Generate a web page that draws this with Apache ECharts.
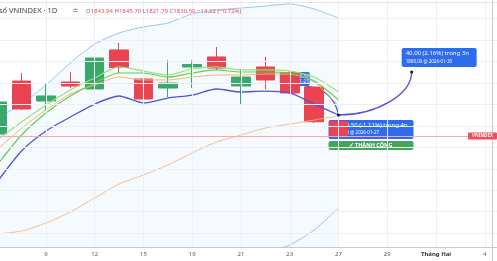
<!DOCTYPE html>
<html><head><meta charset="utf-8">
<script src="https://cdn.jsdelivr.net/npm/echarts@6/dist/echarts.min.js"></script>
<style>html,body{margin:0;padding:0;background:#fff;overflow:hidden}#c{width:497px;height:261px}</style>
</head><body><div id="c"></div>
<script>
// ---- data ----
const categories = ['7','8','9','10','12','13','15','16','19','20','21','22','23','26','27','28','29','30','Tháng Hai','3','4'];
// [open, close, low, high]
const ohlc = [
  [1832.3, 1862.1, 1830.5, 1864.0],
  [1881.6, 1855.6, 1854.7, 1889.1],
  [1863.0, 1867.7, 1853.7, 1879.8],
  [1880.7, 1877.0, 1875.1, 1890.0],
  [1874.2, 1903.0, 1873.3, 1910.5],
  [1910.5, 1894.2, 1889.1, 1917.0],
  [1883.5, 1864.9, 1846.3, 1885.3],
  [1875.1, 1879.8, 1866.7, 1901.2],
  [1894.7, 1897.0, 1875.1, 1901.2],
  [1904.0, 1893.7, 1891.9, 1913.3],
  [1877.0, 1885.3, 1860.2, 1892.8],
  [1894.7, 1882.6, 1874.2, 1904.0],
  [1889.0, 1870.5, 1869.5, 1890.9],
  [1876.0, 1843.72, 1842.6, 1876.0],
  [1843.94, 1830.50, 1821.79, 1845.70]
];
const upperBand = [1847.2,1860.2,1877.9,1898.4,1916.0,1926.3,1931.9,1935.6,1944.0,1947.7,1949.5,1951.4,1953.3,1948.6,1940.2];
const lowerBand = [1566.3,1584.9,1603.5,1622.1,1640.7,1659.3,1673.3,1687.2,1696.5,1705.8,1713.3,1721.6,1729.1,1743.0,1763.5];
const maBlue    = [1787.7,1816.5,1835.1,1848.1,1860.2,1867.7,1861.2,1865.8,1868.6,1874.2,1871.4,1872.3,1870.5,1860.2,1850.0];
const maGreenA  = [1826.7,1843.5,1859.3,1873.3,1884.4,1894.7,1890.9,1887.2,1892.8,1894.7,1891.9,1891.9,1890.9,1885.3,1871.4];
const maGreenB  = [1803.5,1831.4,1851.9,1867.7,1879.8,1889.1,1889.1,1885.3,1889.1,1891.9,1890.0,1890.0,1889.1,1881.6,1864.0];
const maOrange  = [1817.4,1837.9,1854.7,1869.5,1877.9,1885.3,1882.6,1882.6,1885.3,1887.2,1887.2,1888.1,1888.1,1880.7,1858.4];
const maLong    = [1739.3,1742.1,1749.5,1759.8,1772.8,1785.8,1794.2,1803.5,1814.7,1824.9,1831.4,1837.9,1841.6,1845.3,1849.1];
const gridPrices = [1740,1760,1780,1800,1820,1840,1860,1880,1900,1920,1940];
const prevClose = 1843.72;
const forecastStart = { slot: 14, price: 1850.00, date: '2026-01-27' };
const forecastEnd   = { slot: 17, price: 1890.00, date: '2026-01-30' };
const pastForecastText = ['-20.50 (-1.11%) trong 4n', '1850.00 @ 2026-01-27'];
const futureForecastText = ['40.00 (2.16%) trong 3n', '1890.00 @ 2026-01-30'];
const earlyBoxText = ['1870.59', '2026-01-23'];
const symbolTitle = 'số VNINDEX · 1D';
const statusText = '✓ THÀNH CÔNG';

// ---- chart ----
const FONT = '"Noto Sans", "Open Sans", sans-serif';
const chart = echarts.init(document.getElementById('c'), null, { renderer: 'canvas' });
const labelIdx = (i) => i % 2 === 0 && i > 0;
const vLines = categories.filter((c, i) => labelIdx(i));
const lineS = (name, data, color, w, z) => ({
  name, type: 'line', data, symbol: 'none', smooth: 0.25, z: z || 4,
  lineStyle: { color, width: w }, silent: true, animation: false
});

chart.setOption({
  animation: false,
  backgroundColor: '#ffffff',
  grid: { left: -15, right: 0, top: 0, bottom: 14, containLabel: false, outerBoundsMode: 'none' },
  xAxis: {
    type: 'category', data: categories, boundaryGap: true,
    axisLine: { show: true, lineStyle: { color: '#c8cad0', width: 1 } },
    axisTick: { show: false },
    splitLine: { show: false },
    axisLabel: {
      interval: (i) => labelIdx(i), fontSize: 6, color: '#5a5d66', margin: 4, fontFamily: FONT,
      formatter: (v) => v === 'Tháng Hai' ? '{b|' + v + '}' : v,
      rich: { b: { fontWeight: 'bold', fontSize: 6, color: '#2f323a', fontFamily: FONT } }
    }
  },
  yAxis: {
    type: 'value', min: 1727.2, max: 1957, scale: true,
    axisLine: { show: false }, axisLabel: { show: false }, axisTick: { show: false }, splitLine: { show: false }
  },
  series: [
    {
      name: 'upperFill', type: 'line', data: upperBand, symbol: 'none', z: 1, silent: true,
      smooth: 0.25,
      lineStyle: { color: '#93c3ee', width: 1 },
      areaStyle: { color: 'rgba(33,140,243,0.065)', origin: 'start' },
      markLine: {
        silent: true, symbol: ['none', 'none'], label: { show: false }, animation: false,
        lineStyle: { color: '#eceff3', width: 1, type: 'solid' },
        data: gridPrices.map(p => ({ yAxis: p })).concat(vLines.map(c => ({ xAxis: c })))
      }
    },
    lineS('lower', lowerBand, '#93c3ee', 1, 2),
    {
      name: 'VNINDEX', type: 'candlestick', data: ohlc, barWidth: 19, z: 3, silent: true,
      itemStyle: { color: '#3aa76d', color0: '#ea4351', borderColor: '#3aa76d', borderColor0: '#ea4351', borderWidth: 1 },
      markLine: {
        silent: true, symbol: ['none', 'none'], label: { show: false }, animation: false,
        lineStyle: { color: '#f5aab1', width: 1, type: 'solid' },
        data: [{ yAxis: ohlc[ohlc.length - 1][1] }]
      }
    },
    lineS('maLong', maLong, '#f6bb8d', 1),
    lineS('maOrange', maOrange, '#f5b36c', 1),
    lineS('maGreenB', maGreenB, '#5fcf4c', 1.2),
    lineS('maGreenA', maGreenA, '#98e27a', 1.2),
    lineS('maBlue', maBlue, '#5252d8', 1.3)
  ]
});

const px = (i, p) => chart.convertToPixel({ xAxisIndex: 0, yAxisIndex: 0 }, [i, p]);
const S = px(forecastStart.slot, forecastStart.price);
const E = px(forecastEnd.slot, forecastEnd.price);
const P12 = px(12, ohlc[12][1]);
const last = ohlc[ohlc.length - 1];
const L = px(ohlc.length - 1, last[1]);
const chg = last[1] - prevClose;
const pct = chg / prevClose * 100;
const fmt = (v) => v.toFixed(2).replace('-', '−');
const BLUE = '#2f6bef';
const txt = (text, x, y, size, opts) => ({
  type: 'text', z: (opts && opts.z) || 2, silent: true,
  style: Object.assign({ text, x, y, font: ((opts && opts.bold) ? 'bold ' : '') + size + 'px ' + FONT,
    fill: '#fff', align: 'left', verticalAlign: 'middle', textAlign: 'left', textVerticalAlign: 'middle' },
    (opts && opts.style) || {})
});

const graphics = [
  { type: 'line', z: 10, silent: true, shape: { x1: 0, y1: 2.5, x2: 497, y2: 2.5 }, style: { stroke: '#e3e5ea', lineWidth: 1 } },
  { type: 'line', z: 10, silent: true, shape: { x1: 492.5, y1: 0, x2: 492.5, y2: 261 }, style: { stroke: '#c8cad0', lineWidth: 1 } },
  txt(symbolTitle, -1, 11, 7.5, { z: 10, style: { fill: '#3a3e48' } }),
  txt('≐', 72, 11, 8, { z: 10, style: { fill: '#9a9da6' } }),
  { type: 'text', z: 10, silent: true, style: {
      x: 86, y: 11, verticalAlign: 'middle', textVerticalAlign: 'middle', font: '6px ' + FONT,
      text: '{l|O}{v|' + last[0].toFixed(2) + '} {l|H}{v|' + last[3].toFixed(2) + '} {l|L}{v|' + last[2].toFixed(2) +
            '} {l|C}{v|' + last[1].toFixed(2) + '} {v|' + fmt(chg) + ' (' + fmt(pct) + '%)}',
      rich: { l: { fill: '#6a6d76', font: '6px ' + FONT }, v: { fill: '#ec4a5a', font: '6px ' + FONT } }
  } },
  { type: 'rect', z: 1, silent: true, shape: { x: P12[0] - 10, y: P12[1] - 21, width: 30, height: 14, r: 2 }, style: { fill: BLUE } },
  txt(earlyBoxText[0], P12[0] + 19, P12[1] - 16.5, 4.5, { z: 1, style: { align: 'right', textAlign: 'right' } }),
  txt(earlyBoxText[1], P12[0] + 19, P12[1] - 11, 4.5, { z: 1, style: { align: 'right', textAlign: 'right' } }),
  { type: 'bezierCurve', z: 1, silent: true,
    shape: { x1: P12[0] + 15, y1: P12[1] - 7, cpx1: S[0] - 5, cpy1: P12[1] - 4, x2: S[0], y2: S[1] },
    style: { stroke: '#5a55d6', lineWidth: 1.3, fill: null } },
  { type: 'rect', z: 1, silent: true, shape: { x: S[0] - 10, y: S[1] + 5, width: 85, height: 19, r: 2 }, style: { fill: BLUE } },
  txt(pastForecastText[0], S[0] + 69, S[1] + 10.5, 6, { z: 1, style: { align: 'right', textAlign: 'right' } }),
  txt(pastForecastText[1], S[0] - 6, S[1] + 18, 4.5, { z: 1 }),
  { type: 'rect', z: 1, silent: true, shape: { x: S[0] - 10, y: S[1] + 26, width: 85, height: 9, r: 2 }, style: { fill: '#43a75a' } },
  txt(statusText, S[0] + 32, S[1] + 30.5, 5.5, { z: 1, bold: true, style: { align: 'center', textAlign: 'center' } }),
  { type: 'bezierCurve', z: 6, silent: true,
    shape: { x1: S[0], y1: S[1], cpx1: S[0] + 37, cpy1: S[1], cpx2: E[0], cpy2: E[1] + 23, x2: E[0], y2: E[1] },
    style: { stroke: '#5a55d6', lineWidth: 1.4, fill: null } },
  { type: 'rect', z: 6, silent: true, shape: { x: E[0] - 10, y: E[1] - 24, width: 75, height: 19, r: 2 }, style: { fill: BLUE } },
  txt(futureForecastText[0], E[0] - 6, E[1] - 18.5, 6, { z: 6 }),
  txt(futureForecastText[1], E[0] - 6, E[1] - 10.5, 4.5, { z: 6 }),
  { type: 'circle', z: 7, silent: true, shape: { cx: S[0], cy: S[1], r: 1.6 }, style: { fill: '#1c1c28' } },
  { type: 'circle', z: 7, silent: true, shape: { cx: E[0], cy: E[1], r: 1.6 }, style: { fill: '#1c1c28' } },
  { type: 'rect', z: 10, silent: true, shape: { x: 468, y: L[1] - 3.5, width: 29, height: 7, r: 1 }, style: { fill: '#ef4e5c' } },
  txt('VNINDEX', 482.5, L[1], 4.5, { z: 11, bold: true, style: { align: 'center', textAlign: 'center' } })
];
chart.setOption({ graphic: { elements: graphics } });
</script></body></html>
